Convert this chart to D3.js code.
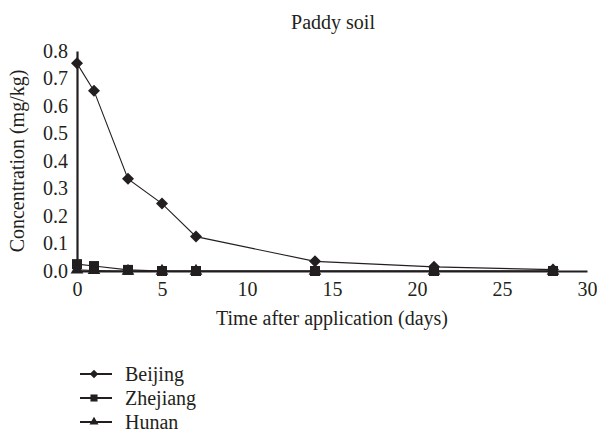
<!DOCTYPE html>
<html>
<head>
<meta charset="utf-8">
<title>Paddy soil</title>
<style>
body { margin: 0; background: #fff; }
svg { display: block; }
text { font-family: "Liberation Serif", "DejaVu Serif", serif; fill: #231f20; }
.axis path, .axis line { stroke: #231f20; }
</style>
</head>
<body>
<div id="chart"></div>
<script src="https://cdnjs.cloudflare.com/ajax/libs/d3/7.8.5/d3.min.js"></script>
<script>
// sampling days
const days = [0, 1, 3, 5, 7, 14, 21, 28];
// residue concentrations (mg/kg)
const beijing  = [0.755, 0.655, 0.335, 0.245, 0.125, 0.035, 0.015, 0.005];
const zhejiang = [0.025, 0.018, 0.004, 0.0, 0.0, 0.0, 0.0, 0.0];
const hunan    = [0.004, 0.002, 0.0, 0.0, 0.0, 0.0, 0.0, 0.0];
const seriesNames = ["Beijing", "Zhejiang", "Hunan"];
const xTicks = [0, 5, 10, 15, 20, 25, 30];
const yTicks = [0, 0.1, 0.2, 0.3, 0.4, 0.5, 0.6, 0.7, 0.8];

const width = 597, height = 438;
const fontSize = "20px";

const svg = d3.select("#chart").append("svg")
    .attr("width", width)
    .attr("height", height);

const x = d3.scaleLinear().domain([0, 30]).range([77, 587]);
const y = d3.scaleLinear().domain([0, 0.8]).range([271, 51]);

const series = [
  {name: seriesNames[0], values: beijing, shape: d3.symbolSquare, size: 72, rot: 45},
  {name: seriesNames[1], values: zhejiang, shape: d3.symbolSquare, size: 100, rot: 0},
  {name: seriesNames[2], values: hunan, shape: d3.symbolTriangle, size: 70, rot: 0}
];

// axes
const xAxis = svg.append("g")
    .attr("class", "axis")
    .attr("transform", `translate(0,${y(0)})`)
    .call(d3.axisBottom(x).tickValues(xTicks).tickSize(0).tickPadding(11));
xAxis.select(".domain").attr("stroke-width", 2.2);
xAxis.selectAll("text").style("font-size", fontSize);

const yAxis = svg.append("g")
    .attr("class", "axis")
    .attr("transform", `translate(${x(0)},0)`)
    .call(d3.axisLeft(y).tickValues(yTicks).tickFormat(d3.format(".1f")).tickSize(0).tickPadding(9));
yAxis.select(".domain").attr("stroke-width", 2.2);
yAxis.selectAll("text").style("font-size", fontSize);

// titles
svg.append("text")
    .attr("x", 333).attr("y", 29)
    .attr("text-anchor", "middle")
    .style("font-size", fontSize)
    .text("Paddy soil");

svg.append("text")
    .attr("x", 332).attr("y", 325)
    .attr("text-anchor", "middle")
    .style("font-size", fontSize)
    .text("Time after application (days)");

svg.append("text")
    .attr("transform", `translate(24,${(y(0) + y(0.8)) / 2}) rotate(-90)`)
    .attr("text-anchor", "middle")
    .style("font-size", fontSize)
    .text("Concentration (mg/kg)");

// series
const line = d3.line().x((d, i) => x(days[i])).y(d => y(d));

series.forEach(s => {
  svg.append("path")
      .datum(s.values)
      .attr("fill", "none")
      .attr("stroke", "#231f20")
      .attr("stroke-width", 1.1)
      .attr("d", line);
  svg.append("g").selectAll("path")
      .data(s.values)
      .join("path")
      .attr("transform", (d, i) => `translate(${x(days[i])},${y(d)}) rotate(${s.rot})`)
      .attr("d", d3.symbol().type(s.shape).size(s.size))
      .attr("fill", "#231f20");
});

// legend
const legend = svg.append("g").attr("transform", "translate(80,374)");
series.forEach((s, i) => {
  const g = legend.append("g").attr("transform", `translate(0,${i * 24})`);
  g.append("line")
      .attr("x1", 0).attr("x2", 32)
      .attr("stroke", "#231f20").attr("stroke-width", 2);
  g.append("path")
      .attr("transform", `translate(14,0) rotate(${s.rot})`)
      .attr("d", d3.symbol().type(s.shape).size(s.size * 0.5))
      .attr("fill", "#231f20");
  g.append("text")
      .attr("x", 45).attr("dy", "0.35em")
      .style("font-size", fontSize)
      .text(s.name);
});
</script>
</body>
</html>
